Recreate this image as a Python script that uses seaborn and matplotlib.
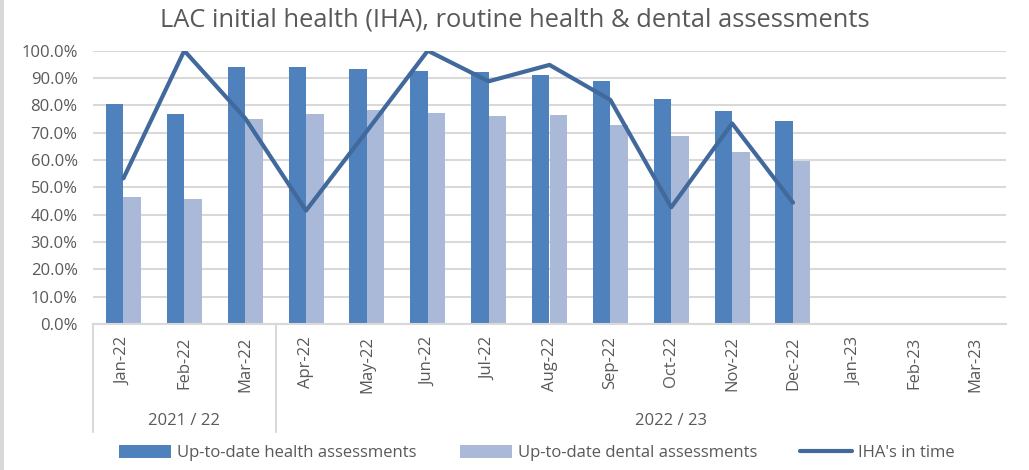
import numpy as np
import pandas as pd
import matplotlib
matplotlib.use("Agg")
import matplotlib.pyplot as plt
from matplotlib.patches import Patch, Rectangle
from matplotlib.lines import Line2D
import matplotlib.transforms as mtransforms
import seaborn as sns

months = ["Jan-22", "Feb-22", "Mar-22", "Apr-22", "May-22", "Jun-22", "Jul-22",
          "Aug-22", "Sep-22", "Oct-22", "Nov-22", "Dec-22", "Jan-23", "Feb-23", "Mar-23"]
health = [80.4, 76.8, 94.0, 94.1, 93.3, 92.6, 92.1, 91.1, 89.0, 82.3, 77.8, 74.4,
          np.nan, np.nan, np.nan]
dental = [46.6, 45.8, 75.1, 76.7, 78.2, 77.1, 76.1, 76.5, 72.8, 68.7, 62.8, 59.5,
          np.nan, np.nan, np.nan]
iha = [53.3, 100.0, 75.3, 41.5, 70.6, 100.0, 88.8, 94.8, 82.0, 42.7, 73.4, 44.4,
       np.nan, np.nan, np.nan]
groups = ["2021 / 22", "2022 / 23"]
group_label_at = [1, 9]
group_bounds = [-0.5, 2.5]

s_health = "Up-to-date health assessments"
s_dental = "Up-to-date dental assessments"
s_iha = "IHA's in time"

c_health = "#4F81BD"
c_dental = "#A9B9D7"
c_line = "#41699C"
txt = "#595959"
grid = "#D9D9D9"

df = pd.DataFrame({
    "month": months * 2,
    "series": [s_health] * len(months) + [s_dental] * len(months),
    "value": [v / 100 for v in health] + [v / 100 for v in dental],
})
line_df = pd.DataFrame({"pos": np.arange(len(months)), "value": [v / 100 for v in iha]}).dropna()

sns.set_theme(style="white")
plt.rcParams["font.family"] = ["Open Sans", "DejaVu Sans"]

fig = plt.figure(figsize=(10.29, 4.70), dpi=100)
ax = fig.add_axes([93 / 1029, 1 - 324 / 470, (1006 - 93) / 1029, (324 - 50.7) / 470])

sns.barplot(data=df, x="month", y="value", hue="series", order=months,
            hue_order=[s_health, s_dental], palette=[c_health, c_dental],
            width=0.575, gap=0, saturation=1, linewidth=0, ax=ax, legend=False,
            zorder=2)
sns.lineplot(data=line_df, x="pos", y="value", color=c_line, lw=3.0, ax=ax,
             sort=False, estimator=None, zorder=3, solid_joinstyle="round",
             solid_capstyle="round")

ax.set_xlim(-0.5, len(months) - 0.5)
ax.set_ylim(0, 1.0)
ax.set_yticks(np.arange(0, 1.01, 0.1))
ax.set_yticklabels([f"{v*100:.1f}%" for v in np.arange(0, 1.01, 0.1)])
ax.yaxis.grid(True, color=grid, lw=1.5, zorder=0)
ax.set_axisbelow(True)
ax.set_xlabel("")
ax.set_ylabel("")
ax.set_xticks(range(len(months)))
ax.set_xticklabels(months, rotation=90)
ax.tick_params(axis="x", length=0, pad=9, labelsize=12, labelcolor=txt)
ax.tick_params(axis="y", length=0, pad=11, labelsize=12, labelcolor=txt)
for sp in ["left", "right", "top"]:
    ax.spines[sp].set_visible(False)
ax.spines["bottom"].set_color(grid)
ax.spines["bottom"].set_linewidth(1.5)

trans = mtransforms.blended_transform_factory(ax.transData, ax.transAxes)
for xb in group_bounds:
    ax.add_line(Line2D([xb, xb], [0, -0.394], transform=trans, color=grid,
                       lw=1.5, clip_on=False))
for g, xp in zip(groups, group_label_at):
    ax.text(xp, -0.354, g, transform=trans, ha="center", va="center",
            fontsize=12, color=txt)

fig.suptitle("LAC initial health (IHA), routine health & dental assessments",
             x=0.5, y=1 - 20 / 470, va="center", fontsize=18.4, color=txt)

handles = [Patch(facecolor=c_health, edgecolor="none", label=s_health),
           Patch(facecolor=c_dental, edgecolor="none", label=s_dental),
           Line2D([0], [0], color=c_line, lw=3.0, label=s_iha)]
fig.legend(handles=handles, loc="center", bbox_to_anchor=(537 / 1029, 1 - 453 / 470),
           ncol=3, frameon=False, fontsize=12, labelcolor=txt,
           handlelength=3.1, handleheight=0.84, handletextpad=0.36, columnspacing=2.6)

fig.patches.append(Rectangle((0, 0), 4 / 1029, 1, transform=fig.transFigure,
                             facecolor=grid, edgecolor="none"))

fig.savefig("out.png", dpi=100)
